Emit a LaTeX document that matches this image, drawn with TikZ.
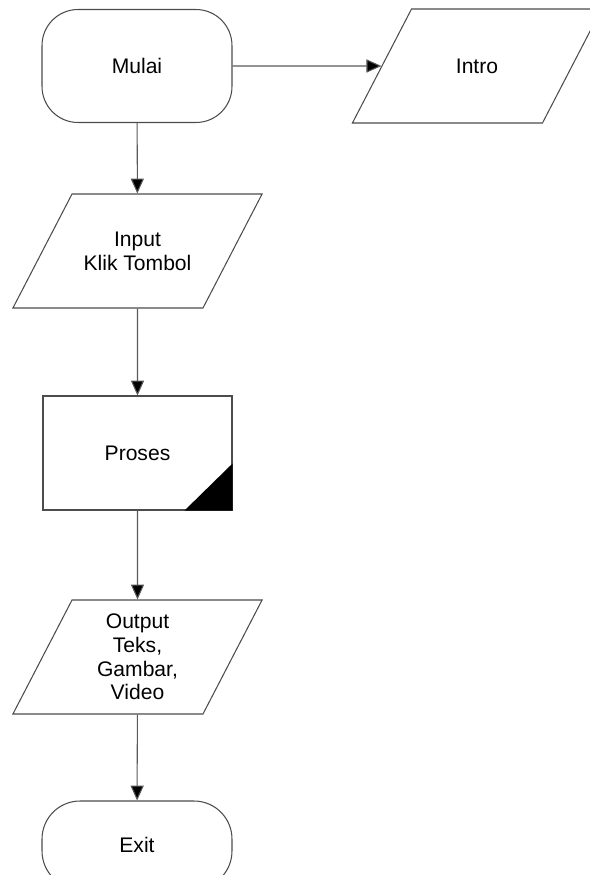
\documentclass[tikz,border=0pt]{standalone}
\usepackage{fontspec}
\setmainfont{Liberation Sans}
\usetikzlibrary{shapes.geometric,arrows.meta}

\newcommand{\iotext}[1]{\parbox[c][2.28cm][c]{2.62cm}{\centering #1}}

\tikzset{
  terminal/.style={rounded corners=0.72cm,minimum width=3.8cm,minimum height=2.26cm},
  inout/.style={trapezium,trapezium left angle=62.6,trapezium right angle=117.4},
  prosesbox/.style={rectangle,minimum width=3.78cm,minimum height=2.28cm},
  alur/.style={draw=black!65,line width=0.6pt,-{Triangle[length=8.5pt,width=7.5pt,fill=black]}}
}

\begin{document}
\begin{tikzpicture}[x=0.02cm,y=-0.02cm]
\clip (0,0) rectangle (590,875);
\begin{scope}[every node/.style={draw=black!70,line width=0.6pt,align=center,inner sep=0pt,
    font=\fontsize{12}{13.5}\selectfont}]
\node[terminal] (mulai) at (137,66) {Mulai};
\node[inout] (intro) at (477,66) {\iotext{Intro}};
\node[inout] (input) at (137.5,251) {\iotext{Input\\Klik Tombol}};
\node[prosesbox] (proses) at (137.5,453) {Proses};
\node[inout] (output) at (137.5,657) {\iotext{Output\\Teks,\\Gambar,\\Video}};
\node[terminal,rounded corners=0.76cm,minimum height=1.76cm] (exit) at (137,845) {Exit};

\fill (proses.south east) -- ([xshift=-0.96cm]proses.south east)
  -- ([yshift=0.94cm]proses.south east) -- cycle;

\draw[alur] (mulai) -- (intro);
\draw[alur] (mulai) -- (input);
\draw[alur] (input) -- (proses);
\draw[alur] (proses) -- (output);
\draw[alur] (output) -- (exit);
\end{scope}
\end{tikzpicture}
\end{document}
